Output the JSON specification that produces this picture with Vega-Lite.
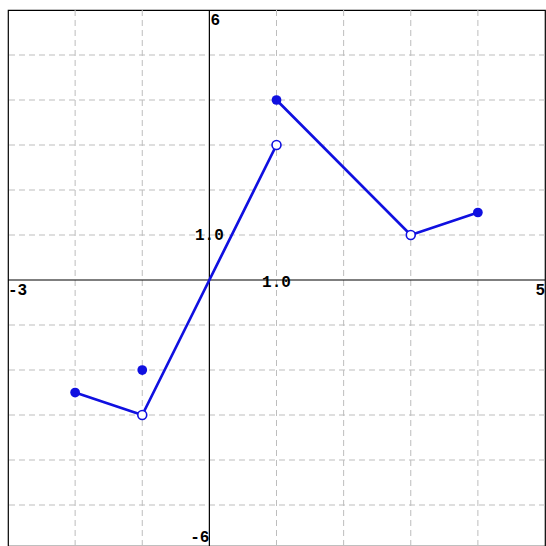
{
  "$schema": "https://vega.github.io/schema/vega-lite/v6.json",
  "width": 537,
  "height": 536,
  "autosize": {"type": "none"},
  "padding": {"left": 8, "top": 10, "right": 1, "bottom": 0},
  "background": "white",
  "config": {"view": {"stroke": "black", "strokeWidth": 1.2}},
  "datasets": {
    "vgrid": [{"x": -2}, {"x": -1}, {"x": 1}, {"x": 2}, {"x": 3}, {"x": 4}],
    "hgrid": [{"y": 5}, {"y": 4}, {"y": 3}, {"y": 2}, {"y": 1}, {"y": -1}, {"y": -2}, {"y": -3}, {"y": -4}, {"y": -5}],
    "curve": [
      {"seg": "a", "x": -2, "y": -2.5},
      {"seg": "a", "x": -1, "y": -3},
      {"seg": "b", "x": -1, "y": -3},
      {"seg": "b", "x": 0, "y": 0},
      {"seg": "b", "x": 1, "y": 3},
      {"seg": "c", "x": 1, "y": 4},
      {"seg": "c", "x": 3, "y": 1},
      {"seg": "c", "x": 4, "y": 1.5}
    ],
    "pts": [
      {"x": -2, "y": -2.5, "kind": "filled"},
      {"x": -1, "y": -2, "kind": "filled"},
      {"x": 1, "y": 4, "kind": "filled"},
      {"x": 4, "y": 1.5, "kind": "filled"},
      {"x": -1, "y": -3, "kind": "open"},
      {"x": 1, "y": 3, "kind": "open"},
      {"x": 3, "y": 1, "kind": "open"}
    ],
    "labels": [
      {"label": "1.0", "x": 0, "y": 1, "pos": "ylab"},
      {"label": "1.0", "x": 1, "y": 0, "pos": "xlab"},
      {"label": "6", "x": 0, "y": 6, "pos": "top"},
      {"label": "-6", "x": 0, "y": -6, "pos": "bottom"},
      {"label": "-3", "x": -3, "y": 0, "pos": "left"},
      {"label": "5", "x": 5, "y": 0, "pos": "right"}
    ]
  },
  "layer": [
    {
      "data": {"name": "vgrid"},
      "mark": {"type": "rule", "color": "#bdbdbd", "strokeWidth": 1, "strokeDash": [6, 4]},
      "encoding": {"x": {"field": "x", "type": "quantitative", "scale": {"domain": [-3, 5], "nice": false, "zero": false}, "axis": null}}
    },
    {
      "data": {"name": "hgrid"},
      "mark": {"type": "rule", "color": "#bdbdbd", "strokeWidth": 1, "strokeDash": [6, 4]},
      "encoding": {"y": {"field": "y", "type": "quantitative", "scale": {"domain": [-5.911, 6], "nice": false, "zero": false}, "axis": null}}
    },
    {
      "data": {"values": [{"x": 0}]},
      "mark": {"type": "rule", "color": "black", "strokeWidth": 1.2},
      "encoding": {"x": {"field": "x", "type": "quantitative", "scale": {"domain": [-3, 5], "nice": false, "zero": false}, "axis": null}}
    },
    {
      "data": {"values": [{"y": 0}]},
      "mark": {"type": "rule", "color": "black", "strokeWidth": 1.2},
      "encoding": {"y": {"field": "y", "type": "quantitative", "scale": {"domain": [-5.911, 6], "nice": false, "zero": false}, "axis": null}}
    },
    {
      "data": {"name": "curve"},
      "mark": {"type": "line", "color": "#1010e0", "strokeWidth": 2.7},
      "encoding": {
        "x": {"field": "x", "type": "quantitative", "scale": {"domain": [-3, 5], "nice": false, "zero": false}, "axis": null},
        "y": {"field": "y", "type": "quantitative", "scale": {"domain": [-5.911, 6], "nice": false, "zero": false}, "axis": null},
        "detail": {"field": "seg"}
      }
    },
    {
      "data": {"name": "pts"},
      "transform": [{"filter": "datum.kind == 'filled'"}],
      "mark": {"type": "point", "shape": "circle", "filled": true, "color": "#1010e0", "size": 95, "opacity": 1},
      "encoding": {
        "x": {"field": "x", "type": "quantitative", "scale": {"domain": [-3, 5], "nice": false, "zero": false}, "axis": null},
        "y": {"field": "y", "type": "quantitative", "scale": {"domain": [-5.911, 6], "nice": false, "zero": false}, "axis": null}
      }
    },
    {
      "data": {"name": "pts"},
      "transform": [{"filter": "datum.kind == 'open'"}],
      "mark": {"type": "point", "shape": "circle", "filled": true, "fill": "white", "stroke": "#1010e0", "strokeWidth": 1.6, "size": 80, "opacity": 1},
      "encoding": {
        "x": {"field": "x", "type": "quantitative", "scale": {"domain": [-3, 5], "nice": false, "zero": false}, "axis": null},
        "y": {"field": "y", "type": "quantitative", "scale": {"domain": [-5.911, 6], "nice": false, "zero": false}, "axis": null}
      }
    },
    {
      "data": {"name": "labels"},
      "transform": [{"filter": "datum.pos == 'ylab'"}],
      "mark": {"type": "text", "font": "Liberation Mono", "fontWeight": "bold", "fontSize": 16, "align": "center", "baseline": "middle", "color": "black"},
      "encoding": {
        "x": {"field": "x", "type": "quantitative", "scale": {"domain": [-3, 5], "nice": false, "zero": false}, "axis": null},
        "y": {"field": "y", "type": "quantitative", "scale": {"domain": [-5.911, 6], "nice": false, "zero": false}, "axis": null},
        "text": {"field": "label"}
      }
    },
    {
      "data": {"name": "labels"},
      "transform": [{"filter": "datum.pos == 'xlab'"}],
      "mark": {"type": "text", "font": "Liberation Mono", "fontWeight": "bold", "fontSize": 16, "align": "center", "baseline": "middle", "dy": 2, "color": "black"},
      "encoding": {
        "x": {"field": "x", "type": "quantitative", "scale": {"domain": [-3, 5], "nice": false, "zero": false}, "axis": null},
        "y": {"field": "y", "type": "quantitative", "scale": {"domain": [-5.911, 6], "nice": false, "zero": false}, "axis": null},
        "text": {"field": "label"}
      }
    },
    {
      "data": {"name": "labels"},
      "transform": [{"filter": "datum.pos == 'top'"}],
      "mark": {"type": "text", "font": "Liberation Mono", "fontWeight": "bold", "fontSize": 16, "align": "left", "baseline": "middle", "dx": 1, "dy": 10, "color": "black"},
      "encoding": {
        "x": {"field": "x", "type": "quantitative", "scale": {"domain": [-3, 5], "nice": false, "zero": false}, "axis": null},
        "y": {"field": "y", "type": "quantitative", "scale": {"domain": [-5.911, 6], "nice": false, "zero": false}, "axis": null},
        "text": {"field": "label"}
      }
    },
    {
      "data": {"name": "labels"},
      "transform": [{"filter": "datum.pos == 'bottom'"}],
      "mark": {"type": "text", "font": "Liberation Mono", "fontWeight": "bold", "fontSize": 16, "align": "right", "baseline": "bottom", "dx": 0, "dy": -5, "color": "black"},
      "encoding": {
        "x": {"field": "x", "type": "quantitative", "scale": {"domain": [-3, 5], "nice": false, "zero": false}, "axis": null},
        "y": {"field": "y", "type": "quantitative", "scale": {"domain": [-5.911, 6], "nice": false, "zero": false}, "axis": null},
        "text": {"field": "label"}
      }
    },
    {
      "data": {"name": "labels"},
      "transform": [{"filter": "datum.pos == 'left'"}],
      "mark": {"type": "text", "font": "Liberation Mono", "fontWeight": "bold", "fontSize": 16, "align": "left", "baseline": "middle", "dx": 0, "dy": 10, "color": "black"},
      "encoding": {
        "x": {"field": "x", "type": "quantitative", "scale": {"domain": [-3, 5], "nice": false, "zero": false}, "axis": null},
        "y": {"field": "y", "type": "quantitative", "scale": {"domain": [-5.911, 6], "nice": false, "zero": false}, "axis": null},
        "text": {"field": "label"}
      }
    },
    {
      "data": {"name": "labels"},
      "transform": [{"filter": "datum.pos == 'right'"}],
      "mark": {"type": "text", "font": "Liberation Mono", "fontWeight": "bold", "fontSize": 16, "align": "right", "baseline": "middle", "dx": 0, "dy": 10, "color": "black"},
      "encoding": {
        "x": {"field": "x", "type": "quantitative", "scale": {"domain": [-3, 5], "nice": false, "zero": false}, "axis": null},
        "y": {"field": "y", "type": "quantitative", "scale": {"domain": [-5.911, 6], "nice": false, "zero": false}, "axis": null},
        "text": {"field": "label"}
      }
    }
  ]
}
